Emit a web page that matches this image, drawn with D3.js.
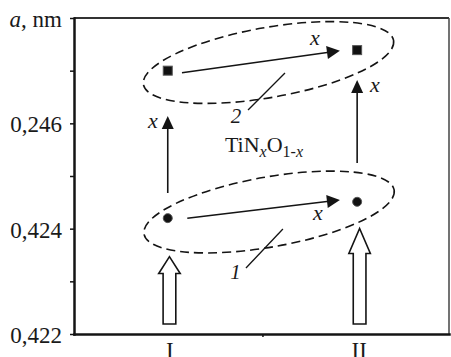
<!DOCTYPE html>
<html>
<head>
<meta charset="utf-8">
<script src="https://cdn.jsdelivr.net/npm/d3@7"></script>
<style>
  body { margin: 0; background: #fff; }
  svg { display: block; }
  text { font-family: "Liberation Serif", "DejaVu Serif", serif; fill: #1a1a1a; }
</style>
</head>
<body>
<div id="chart"></div>
<script>
// Categories and axis ticks
const xTicks = [1, 1.5, 2];
const xTickLabels = ["I", "", "II"];
const yTicks = [0.422, 0.423, 0.424, 0.425, 0.426, 0.427, 0.428];
const yTickLabels = ["0,422", "", "0,424", "", "0,246", "", "a, nm"];

// Lattice parameter, nm (curve 2 = squares, curve 1 = circles)
const categories = [1, 2];
const curve2 = [0.42700, 0.42739];
const curve1 = [0.42420, 0.42451];

// Annotations, in data units (category, value)
const hArrows = [
    { x1: 1.075, v1: 0.426961, x2: 1.909, v2: 0.427379 },
    { x1: 1.103, v1: 0.424197, x2: 1.909, v2: 0.424544 }
];
const vArrows = [
    { x: 1, from: 0.424677, to: 0.426139 },
    { x: 2, from: 0.425247, to: 0.426823 }
];
const xLabels = [
    { x: 1.777, v: 0.427487 },
    { x: 1.793, v: 0.424165 },
    { x: 0.922, v: 0.425911 },
    { x: 2.094, v: 0.426595 }
];
const blockArrows = [
    { x: 1.009, base: 0.42219, neck: 0.423149, tip: 0.423468 },
    { x: 2.013, base: 0.42219, neck: 0.423528, tip: 0.424003 }
];
const ellipseCenters = [
    { x: 1.532, v: 0.427155 },
    { x: 1.535, v: 0.424316 }
];
const leaders = [
    { name: "2", x1: 1.424, v1: 0.426253, x2: 1.619, v2: 0.426956, tx: 1.360, tv: 0.426006 },
    { name: "1", x1: 1.413, v1: 0.423253, x2: 1.608, v2: 0.423994, tx: 1.358, tv: 0.423044 }
];
const formulaPos = { x: 1.302, v: 0.425456 };

const W = 451, H = 357;
const margin = { left: 74, right: 2, top: 18, bottom: 23 };
const ink = "#141414";
const serif = "'Liberation Serif', 'DejaVu Serif', serif";

const svg = d3.select("#chart").append("svg")
    .attr("width", W)
    .attr("height", H);

const x = d3.scaleLinear().domain([0.505, 2.485]).range([margin.left, W - margin.right]);
const y = d3.scaleLinear().domain([0.422, 0.428]).range([H - margin.bottom, margin.top]);

// Frame: top and right thin lines
svg.append("line")
    .attr("x1", x(0.505)).attr("x2", x(2.485))
    .attr("y1", y(0.428)).attr("y2", y(0.428))
    .attr("stroke", "#333").attr("stroke-width", 2);
svg.append("line")
    .attr("x1", x(2.485)).attr("x2", x(2.485))
    .attr("y1", y(0.428)).attr("y2", y(0.422))
    .attr("stroke", "#444").attr("stroke-width", 1.5);

// Left axis
const yAxis = svg.append("g")
    .attr("transform", `translate(${margin.left},0)`)
    .call(d3.axisLeft(y)
        .tickValues(yTicks)
        .tickSizeInner(4)
        .tickSizeOuter(0)
        .tickPadding(8)
        .tickFormat((d, i) => yTickLabels[i]));
yAxis.attr("font-family", null).attr("font-size", null);
yAxis.select(".domain").attr("stroke", ink).attr("stroke-width", 2.5).attr("stroke-linecap", "square");
yAxis.selectAll(".tick line").attr("stroke", ink).attr("stroke-width", 1.5);
yAxis.selectAll(".tick text")
    .style("font-family", serif)
    .style("font-size", "23px")
    .attr("dy", "0.37em")
    .attr("fill", ink);
// unit label on the top tick: italic "a"
yAxis.selectAll(".tick text").filter((d, i) => yTickLabels[i] === "a, nm")
    .each(function () {
        const t = d3.select(this);
        t.text(null);
        t.append("tspan").style("font-style", "italic").text("a");
        t.append("tspan").text(", nm");
    });

// Bottom axis
const xAxis = svg.append("g")
    .attr("transform", `translate(0,${y(0.422)})`)
    .call(d3.axisBottom(x)
        .tickValues(xTicks)
        .tickSizeInner(3)
        .tickSizeOuter(0)
        .tickPadding(5)
        .tickFormat((d, i) => xTickLabels[i]));
xAxis.attr("font-family", null).attr("font-size", null);
xAxis.select(".domain").attr("stroke", ink).attr("stroke-width", 2.5).attr("stroke-linecap", "square");
xAxis.selectAll(".tick line").attr("stroke", ink).attr("stroke-width", 1.5)
    .filter((d, i) => xTickLabels[i] !== "").remove();
xAxis.selectAll(".tick text")
    .style("font-family", serif)
    .style("font-size", "23px")
    .attr("dx", 1.5)
    .attr("fill", ink);

// Dashed ellipses around each curve
svg.append("g")
    .selectAll("ellipse")
    .data(ellipseCenters)
    .join("ellipse")
    .attr("cx", 0).attr("cy", 0)
    .attr("rx", 127).attr("ry", 35)
    .attr("transform", d => `translate(${x(d.x)},${y(d.v)}) rotate(-10)`)
    .attr("fill", "none")
    .attr("stroke", ink)
    .attr("stroke-width", 1.6)
    .attr("stroke-dasharray", "9,5");

// Arrow helper: line + filled triangular head
function arrow(g, x1, y1, x2, y2, len, wid) {
    const dx = x2 - x1, dy = y2 - y1;
    const L = Math.sqrt(dx * dx + dy * dy);
    const ux = dx / L, uy = dy / L;
    g.append("line")
        .attr("x1", x1).attr("y1", y1)
        .attr("x2", x2 - ux * (len - 2)).attr("y2", y2 - uy * (len - 2))
        .attr("stroke", ink).attr("stroke-width", 1.6);
    const bx = x2 - ux * len, by = y2 - uy * len;
    const px = -uy * wid / 2, py = ux * wid / 2;
    g.append("path")
        .attr("d", `M${x2},${y2}L${bx + px},${by + py}L${bx - px},${by - py}Z`)
        .attr("fill", ink);
}

const arrows = svg.append("g");
hArrows.forEach(a => arrow(arrows, x(a.x1), y(a.v1), x(a.x2), y(a.v2), 13, 13));
vArrows.forEach(a => arrow(arrows, x(a.x), y(a.from), x(a.x), y(a.to), 13, 12));

// italic x labels on arrows
svg.append("g")
    .selectAll("text")
    .data(xLabels)
    .join("text")
    .attr("x", d => x(d.x))
    .attr("y", d => y(d.v))
    .attr("text-anchor", "middle")
    .style("font-family", serif)
    .style("font-size", "22px")
    .style("font-style", "italic")
    .text("x");

// Hollow block arrows from the axis
const shaft = 12.7, head = 21.5;
svg.append("g")
    .selectAll("path")
    .data(blockArrows)
    .join("path")
    .attr("d", d => {
        const cx = x(d.x), b = y(d.base), n = y(d.neck), t = y(d.tip);
        const p = d3.path();
        p.moveTo(cx - shaft / 2, b);
        p.lineTo(cx - shaft / 2, n);
        p.lineTo(cx - head / 2, n);
        p.lineTo(cx, t);
        p.lineTo(cx + head / 2, n);
        p.lineTo(cx + shaft / 2, n);
        p.lineTo(cx + shaft / 2, b);
        p.closePath();
        return p.toString();
    })
    .attr("fill", "#fff")
    .attr("stroke", ink)
    .attr("stroke-width", 1.6)
    .attr("stroke-linejoin", "miter");

// Leader lines with curve numbers
const lead = svg.append("g");
lead.selectAll("line")
    .data(leaders)
    .join("line")
    .attr("x1", d => x(d.x1)).attr("y1", d => y(d.v1))
    .attr("x2", d => x(d.x2)).attr("y2", d => y(d.v2))
    .attr("stroke", ink).attr("stroke-width", 1.3);
lead.selectAll("text")
    .data(leaders)
    .join("text")
    .attr("x", d => x(d.tx)).attr("y", d => y(d.tv))
    .attr("text-anchor", "middle")
    .style("font-family", serif)
    .style("font-size", "21px")
    .style("font-style", "italic")
    .text(d => d.name);

// Formula label TiN_xO_{1-x}
const f = svg.append("text")
    .attr("x", x(formulaPos.x))
    .attr("y", y(formulaPos.v))
    .style("font-family", serif)
    .style("font-size", "22px");
f.append("tspan").text("TiN");
f.append("tspan").style("font-style", "italic").style("font-size", "16px").attr("dy", 5).text("x");
f.append("tspan").attr("dy", -5).text("O");
f.append("tspan").style("font-size", "16px").attr("dy", 5).text("1-");
f.append("tspan").style("font-size", "16px").style("font-style", "italic").text("x");

// Data points
svg.append("g")
    .selectAll("rect")
    .data(categories)
    .join("rect")
    .attr("x", d => x(d) - 4.5)
    .attr("y", (d, i) => y(curve2[i]) - 4.5)
    .attr("width", 9).attr("height", 9)
    .attr("fill", "#111")
    .attr("stroke", "#555")
    .attr("stroke-width", 1);
svg.append("g")
    .selectAll("circle")
    .data(categories)
    .join("circle")
    .attr("cx", d => x(d))
    .attr("cy", (d, i) => y(curve1[i]))
    .attr("r", 4.5)
    .attr("fill", "#111")
    .attr("stroke", "#555")
    .attr("stroke-width", 1);
</script>
</body>
</html>
